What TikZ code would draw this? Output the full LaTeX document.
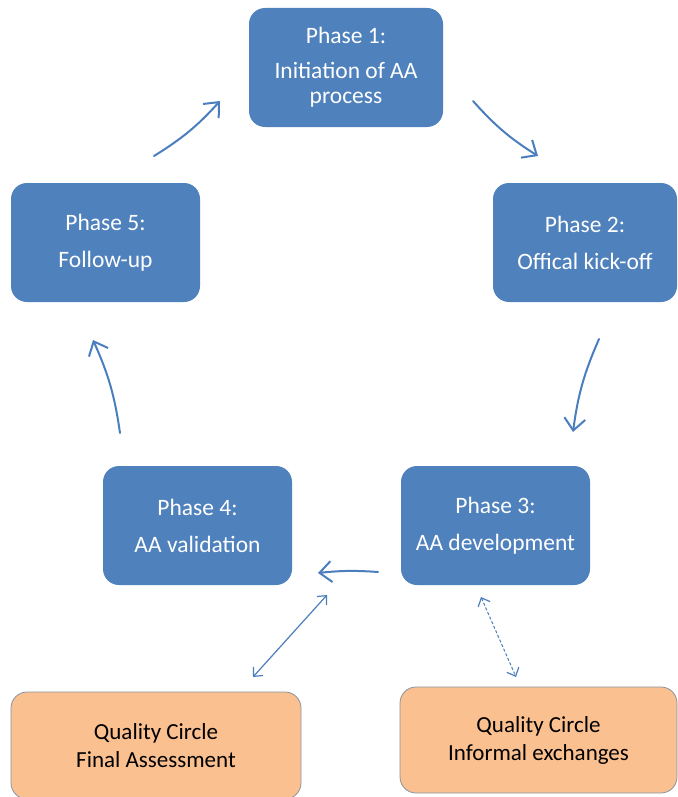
\documentclass[tikz,border=0pt]{standalone}
\usepackage{fontspec}
\setmainfont{Carlito}
\usetikzlibrary{arrows.meta}
\definecolor{phaseblue}{HTML}{4F81BD}
\definecolor{qcorange}{HTML}{FAC090}
\definecolor{qcborder}{HTML}{8A93A3}
\definecolor{arrowblue}{HTML}{4A7EBE}
\tikzset{
  phasebox/.style={rectangle, rounded corners=16pt, fill=phaseblue, draw=none,
    text=white, align=center, inner sep=0pt,
    font=\fontsize{23.5}{25}\selectfont},
  qcbox/.style={rectangle, rounded corners=16pt, fill=qcorange, draw=qcborder,
    line width=0.8pt, text=black, align=center, inner sep=0pt,
    font=\fontsize{23}{28}\selectfont},
  cyclearrow/.style={draw=arrowblue, line width=2pt, line cap=round,
    -{Straight Barb[length=12pt,width=21pt,line width=2pt]}},
  linkarrow/.style={draw=arrowblue, line width=1.2pt,
    {Straight Barb[length=7pt,width=13pt,line width=1.2pt]}-{Straight Barb[length=7pt,width=13pt,line width=1.2pt]}},
}
\begin{document}
\begin{tikzpicture}[x=1pt,y=-1pt]
\useasboundingbox (0,0) rectangle (677,797);
\fill[white] (0,0) rectangle (677,797);

% phase boxes
\node[phasebox, minimum width=194pt, minimum height=119pt] (p1) at (346,67.5)
  {Phase 1:\\[10pt]Initiation of AA\\process};
\node[phasebox, minimum width=184pt, minimum height=119pt] (p2) at (585,242.5)
  {Phase 2:\\[12pt]Offical kick-off};
\node[phasebox, minimum width=189pt, minimum height=119pt] (p3) at (495.5,525.5)
  {Phase 3:\\[12pt]AA development};
\node[phasebox, minimum width=189pt, minimum height=119pt] (p4) at (197.5,525.5)
  {Phase 4:\\[12pt]AA validation};
\node[phasebox, minimum width=189pt, minimum height=119pt] (p5) at (105.5,242.5)
  {Phase 5:\\[12pt]Follow-up};

% quality circle boxes
\node[qcbox, minimum width=290pt, minimum height=107pt] (qf) at (156,745.5)
  {Quality Circle\\Final Assessment};
\node[qcbox, minimum width=277pt, minimum height=106pt] (qi) at (538.5,740)
  {Quality Circle\\Informal exchanges};

% arrow end points between the boxes
\coordinate (c51s) at (154,156);
\coordinate (c51e) at (220,101);
\coordinate (c12s) at (473,101);
\coordinate (c12e) at (538,156);
\coordinate (c23s) at (599,339);
\coordinate (c23e) at (573,432);
\coordinate (c34s) at (378,572);
\coordinate (c34e) at (318,573);
\coordinate (c45s) at (120,433);
\coordinate (c45e) at (93,340);
\coordinate (cq4a) at (327,595);
\coordinate (cq4b) at (253,677);
\coordinate (cq3a) at (481,597);
\coordinate (cq3b) at (516,677);

% cycle arrows
\draw[cyclearrow] (c51s) to[bend right=8] (c51e);
\draw[cyclearrow] (c12s) to[bend right=8] (c12e);
\draw[cyclearrow] (c23s) to[bend right=8] (c23e);
\draw[cyclearrow] (c34s) to[bend right=5] (c34e);
\draw[cyclearrow] (c45s) to[bend right=8] (c45e);

% links to the quality circles
\draw[linkarrow] (cq4a) -- (cq4b);
\draw[linkarrow, dashed, dash pattern=on 3pt off 2pt, line width=1pt] (cq3a) -- (cq3b);
\end{tikzpicture}
\end{document}
